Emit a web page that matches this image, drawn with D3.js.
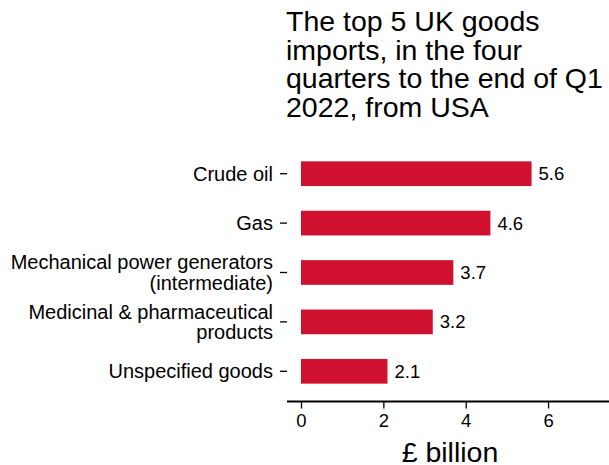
<!DOCTYPE html>
<html>
<head>
<meta charset="utf-8">
<script src="https://cdn.jsdelivr.net/npm/d3@7"></script>
<style>
  body { margin: 0; background: #fff; }
  text { font-family: "Liberation Sans", Arial, sans-serif; fill: #000; }
</style>
</head>
<body>
<svg id="chart" width="609" height="465"></svg>
<script>
// data
const categories = [
    ["Crude oil"],
    ["Gas"],
    ["Mechanical power generators", "(intermediate)"],
    ["Medicinal & pharmaceutical", "products"],
    ["Unspecified goods"]
];
const values = [5.6, 4.6, 3.7, 3.2, 2.1];
const xTicks = [0, 2, 4, 6];
const titleLines = [
    "The top 5 UK goods",
    "imports, in the four",
    "quarters to the end of Q1",
    "2022, from USA"
];

const svg = d3.select("#chart");

// scales
const x = d3.scaleLinear().domain([-0.34, 7.48]).range([287, 609]);
const y = d3.scaleBand()
    .domain(d3.range(values.length))
    .range([149, 396])
    .paddingInner(0.5)
    .paddingOuter(0.25);

// title
svg.append("text")
    .attr("x", 286).attr("y", 31)
    .style("font-size", "28.5px")
    .selectAll("tspan")
    .data(titleLines)
    .join("tspan")
    .attr("x", 286)
    .attr("dy", (d, i) => i === 0 ? 0 : 28.7)
    .text(d => d);

// bars
svg.selectAll("rect.bar")
    .data(values)
    .join("rect").classed("bar", true)
    .attr("x", x(0))
    .attr("y", (d, i) => y(i))
    .attr("width", d => x(d) - x(0))
    .attr("height", y.bandwidth())
    .attr("fill", "#cf112f");

// value labels
svg.selectAll("text.val")
    .data(values)
    .join("text").classed("val", true)
    .attr("x", d => x(d) + 7)
    .attr("y", (d, i) => y(i) + y.bandwidth() / 2)
    .attr("dy", "0.35em")
    .style("font-size", "18.5px")
    .text(d => d.toFixed(1));

// x axis
const xAxis = svg.append("g")
    .attr("transform", "translate(0,401.5)")
    .call(d3.axisBottom(x).tickValues(xTicks).tickSize(7).tickPadding(5));
xAxis.select(".domain").attr("stroke-width", 2).attr("d", `M${x.range()[0]},0H${x.range()[1]}`);
xAxis.selectAll(".tick line").attr("stroke-width", 1.3);
xAxis.selectAll(".tick text")
    .style("font-size", "18.5px")
    .style("font-family", "'Liberation Sans', Arial, sans-serif")
    .attr("fill", "#000");

svg.append("text")
    .attr("x", 450).attr("y", 462)
    .attr("text-anchor", "middle")
    .style("font-size", "28.5px")
    .text("£ billion");

// y ticks + labels
const yg = svg.append("g");
categories.forEach((lines, i) => {
    const cy = y(i) + y.bandwidth() / 2;
    yg.append("line")
        .attr("x1", 280).attr("x2", 287)
        .attr("y1", cy).attr("y2", cy)
        .attr("stroke", "#000").attr("stroke-width", 1.3);
    const t = yg.append("text")
        .attr("text-anchor", "end")
        .style("font-size", "20px");
    const lh = 20.5;
    const offset = (lines.length - 1) * lh / 2;
    lines.forEach((l, j) => {
        t.append("tspan")
            .attr("x", 273)
            .attr("y", cy - offset + j * lh)
            .attr("dy", "0.35em")
            .text(l);
    });
});
</script>
</body>
</html>
